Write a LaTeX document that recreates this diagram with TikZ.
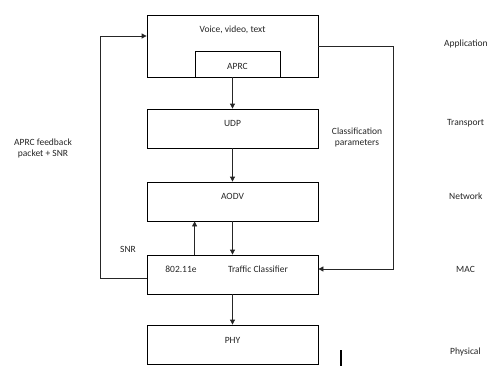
\documentclass[tikz,border=0pt]{standalone}
\usepackage{fontspec}
\setmainfont{Carlito}
\usetikzlibrary{arrows.meta,calc}
\begin{document}
\begin{tikzpicture}[x=1pt,y=-1pt,
  box/.style={draw=black,line width=0.8pt,minimum width=171pt,minimum height=39pt,inner sep=0pt},
  lbl/.style={font=\fontsize{9.5pt}{11.5pt}\selectfont,inner sep=0pt,text=black!85},
  arr/.style={draw=black!85,line width=0.8pt,-{Triangle[length=5pt,width=5pt]}},
  ln/.style={draw=black!85,line width=0.8pt}]
\useasboundingbox (0,0) rectangle (490,367);
% boxes
\node[box,minimum height=62pt] (top) at (232.5,46) {};
\node[box,minimum width=85pt,minimum height=26pt] (aprc) at (237.5,64) {};
\node[box] (udp) at (232.5,128.5) {};
\node[box] (aodv) at (232.5,201.5) {};
\node[box] (mac) at (232.5,274.5) {};
\node[box] (phy) at (232.5,344.5) {};
% box texts
\node[lbl] (tvoice) at (232.5,30) {Voice, video, text};
\node[lbl] (taprc) at (237.5,66) {APRC};
\node[lbl] (tudp) at (232.5,123) {UDP};
\node[lbl] (taodv) at (232.5,196) {AODV};
\node[lbl] (t80211) at (181,269) {802.11e};
\node[lbl] (ttc) at (258,269) {Traffic Classifier};
\node[lbl] (tphy) at (232.5,340) {PHY};
% side texts
\node[lbl,align=center] (tclass) at (357,137.5) {Classification\\parameters};
\node[lbl,align=center] (tfb) at (43,148.5) {APRC feedback\\packet + SNR};
\node[lbl] (tsnr) at (128,249) {SNR};
\node[lbl,anchor=west] (lapp) at (444,44) {Application};
\node[lbl,anchor=west] (ltrans) at (447,123) {Transport};
\node[lbl,anchor=west] (lnet) at (449,196) {Network};
\node[lbl,anchor=west] (lmac) at (456,269) {MAC};
\node[lbl,anchor=west] (lphy) at (450,352) {Physical};
% arrows
\draw[arr] (top.south) -- (udp.north);
\draw[arr] (udp.south) -- (aodv.north);
\draw[arr] (aodv.south) -- (mac.north);
\draw[arr] (mac.north -| aprc.west) -- (aodv.south -| aprc.west);
\draw[arr] (mac.south) -- (phy.north);
\coordinate (fbl) at (100,278);
\draw[arr] ([yshift=-3.5pt]mac.west) -- (fbl) |- ([yshift=10pt]top.west);
\coordinate (fbr) at (393,46);
\draw[arr] (top.east) -- (fbr) |- ([yshift=5.5pt]mac.east);
% stray mark
\coordinate (m1) at (341,350);
\coordinate (m2) at (341,366);
\draw[line width=1.6pt,black] (m1) -- (m2);
\end{tikzpicture}
\end{document}
